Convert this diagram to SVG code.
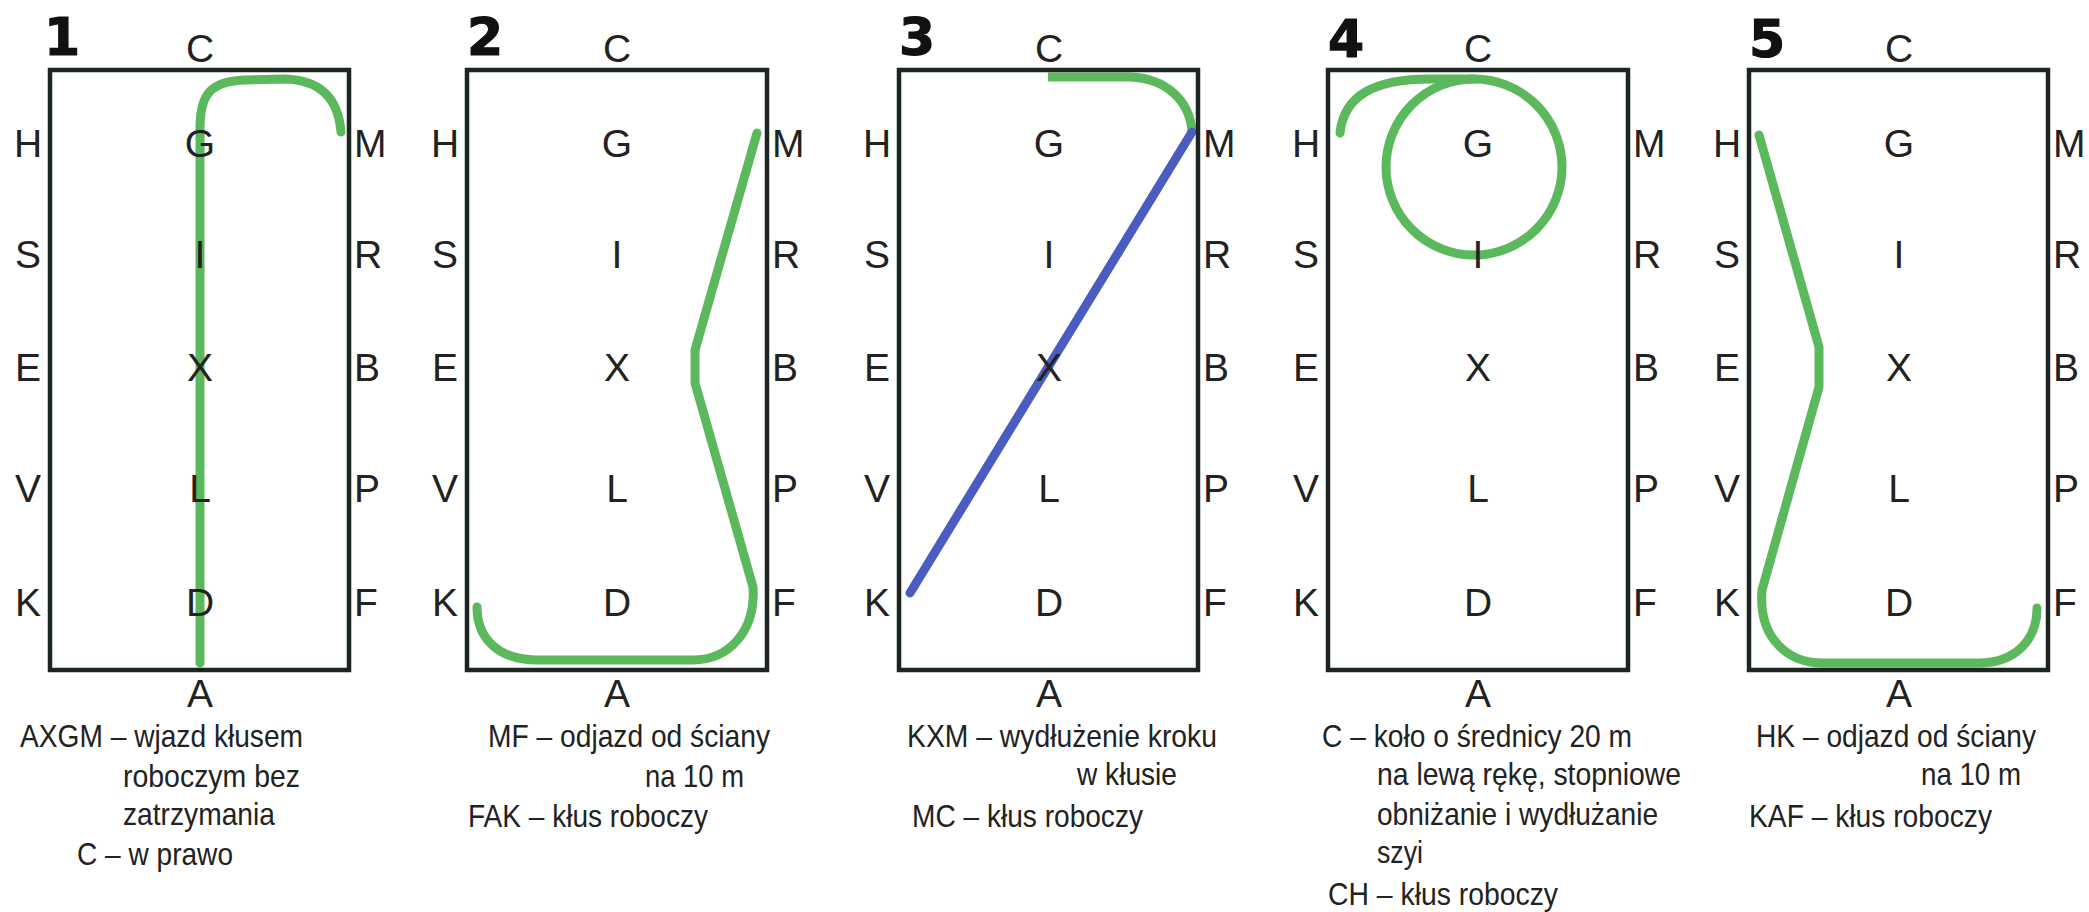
<svg xmlns="http://www.w3.org/2000/svg" width="2089" height="912" viewBox="0 0 2089 912">
<style>
.frame{fill:none;stroke:#1d2521;stroke-width:4.5}
.lbl{font-family:"Liberation Sans",Arial,sans-serif;font-size:39px;fill:#222}
.mid{text-anchor:middle}
.num{font-family:"DejaVu Sans","Liberation Sans",sans-serif;font-weight:bold;font-size:52px;fill:#111;stroke:#111;stroke-width:1.2}
.cap{font-family:"Liberation Sans Narrow","Liberation Sans",Arial,sans-serif;font-size:32px;fill:#222}
.g{fill:none;stroke:#5cb85c;stroke-width:9;stroke-linecap:round;stroke-linejoin:round}
.b{fill:none;stroke:#4a5cc0;stroke-width:9;stroke-linecap:round}
</style>
<rect width="2089" height="912" fill="#ffffff"/>

<g id="connectors">
  <path class="g" d="M200,663 L200,128 C200,95 210,81 245,80 L285,79 C318,80 338,96 341,132"/>
  <path class="g" d="M757,133 L695,350 L695,383 L753,587 C756,632 728,660 693,660 L537,660 C500,660 477,640 477,607"/>
  <path class="g" style="stroke-linecap:butt" d="M1048,77 L1130,77 C1165,78 1190,100 1192,132"/>
  <path class="b" d="M1192,132 L910,593"/>
  <path class="g" d="M1340,133 C1344,95 1375,79 1430,79 L1474,79"/>
  <circle class="g" cx="1474" cy="167" r="88"/>
  <path class="g" d="M1759,135 L1819,347 L1819,387 L1762,590 C1758,640 1790,663 1822,663 L1979,663 C2015,663 2037,640 2037,608"/>
</g>

<g id="panel1">
  <rect class="frame" x="50" y="70" width="299" height="600"/>
  <text class="num" x="44" y="55">1</text>
  <g class="lbl mid">
    <text x="200" y="62">C</text><text x="200" y="707">A</text>
    <text x="28" y="157">H</text><text x="28" y="268">S</text><text x="28" y="381">E</text><text x="28" y="502">V</text><text x="28" y="616">K</text>
    <text x="200" y="157">G</text><text x="200" y="268">I</text><text x="200" y="381">X</text><text x="200" y="502">L</text><text x="200" y="616">D</text>
  </g>
  <g class="lbl">
    <text x="354" y="157">M</text><text x="354" y="268">R</text><text x="354" y="381">B</text><text x="354" y="502">P</text><text x="354" y="616">F</text>
  </g>
  <g class="cap">
    <text x="20" y="747" textLength="283" lengthAdjust="spacingAndGlyphs">AXGM – wjazd kłusem</text>
    <text x="123" y="787" textLength="177" lengthAdjust="spacingAndGlyphs">roboczym bez</text>
    <text x="123" y="825" textLength="152" lengthAdjust="spacingAndGlyphs">zatrzymania</text>
    <text x="77" y="865" textLength="156" lengthAdjust="spacingAndGlyphs">C – w prawo</text>
  </g>
</g>

<g id="panel2">
  <rect class="frame" x="467" y="70" width="300" height="600"/>
  <text class="num" x="467" y="55">2</text>
  <g class="lbl mid">
    <text x="617" y="62">C</text><text x="617" y="707">A</text>
    <text x="445" y="157">H</text><text x="445" y="268">S</text><text x="445" y="381">E</text><text x="445" y="502">V</text><text x="445" y="616">K</text>
    <text x="617" y="157">G</text><text x="617" y="268">I</text><text x="617" y="381">X</text><text x="617" y="502">L</text><text x="617" y="616">D</text>
  </g>
  <g class="lbl">
    <text x="772" y="157">M</text><text x="772" y="268">R</text><text x="772" y="381">B</text><text x="772" y="502">P</text><text x="772" y="616">F</text>
  </g>
  <g class="cap">
    <text x="488" y="747" textLength="282" lengthAdjust="spacingAndGlyphs">MF – odjazd od ściany</text>
    <text x="645" y="787" textLength="99" lengthAdjust="spacingAndGlyphs">na 10 m</text>
    <text x="468" y="827" textLength="240" lengthAdjust="spacingAndGlyphs">FAK – kłus roboczy</text>
  </g>
</g>

<g id="panel3">
  <rect class="frame" x="899" y="70" width="299" height="600"/>
  <text class="num" x="899" y="55">3</text>
  <g class="lbl mid">
    <text x="1049" y="62">C</text><text x="1049" y="707">A</text>
    <text x="877" y="157">H</text><text x="877" y="268">S</text><text x="877" y="381">E</text><text x="877" y="502">V</text><text x="877" y="616">K</text>
    <text x="1049" y="157">G</text><text x="1049" y="268">I</text><text x="1049" y="381">X</text><text x="1049" y="502">L</text><text x="1049" y="616">D</text>
  </g>
  <g class="lbl">
    <text x="1203" y="157">M</text><text x="1203" y="268">R</text><text x="1203" y="381">B</text><text x="1203" y="502">P</text><text x="1203" y="616">F</text>
  </g>
  <g class="cap">
    <text x="907" y="747" textLength="310" lengthAdjust="spacingAndGlyphs">KXM – wydłużenie kroku</text>
    <text x="1077" y="785" textLength="100" lengthAdjust="spacingAndGlyphs">w kłusie</text>
    <text x="912" y="827" textLength="231" lengthAdjust="spacingAndGlyphs">MC – kłus roboczy</text>
  </g>
</g>

<g id="panel4">
  <rect class="frame" x="1328" y="70" width="300" height="600"/>
  <text class="num" x="1328" y="57">4</text>
  <g class="lbl mid">
    <text x="1478" y="62">C</text><text x="1478" y="707">A</text>
    <text x="1306" y="157">H</text><text x="1306" y="268">S</text><text x="1306" y="381">E</text><text x="1306" y="502">V</text><text x="1306" y="616">K</text>
    <text x="1478" y="157">G</text><text x="1478" y="268">I</text><text x="1478" y="381">X</text><text x="1478" y="502">L</text><text x="1478" y="616">D</text>
  </g>
  <g class="lbl">
    <text x="1633" y="157">M</text><text x="1633" y="268">R</text><text x="1633" y="381">B</text><text x="1633" y="502">P</text><text x="1633" y="616">F</text>
  </g>
  <g class="cap">
    <text x="1322" y="747" textLength="310" lengthAdjust="spacingAndGlyphs">C – koło o średnicy 20 m</text>
    <text x="1377" y="785" textLength="304" lengthAdjust="spacingAndGlyphs">na lewą rękę, stopniowe</text>
    <text x="1377" y="825" textLength="281" lengthAdjust="spacingAndGlyphs">obniżanie i wydłużanie</text>
    <text x="1377" y="863" textLength="46" lengthAdjust="spacingAndGlyphs">szyi</text>
    <text x="1328" y="905" textLength="230" lengthAdjust="spacingAndGlyphs">CH – kłus roboczy</text>
  </g>
</g>

<g id="panel5">
  <rect class="frame" x="1749" y="70" width="299" height="600"/>
  <text class="num" x="1749" y="57">5</text>
  <g class="lbl mid">
    <text x="1899" y="62">C</text><text x="1899" y="707">A</text>
    <text x="1727" y="157">H</text><text x="1727" y="268">S</text><text x="1727" y="381">E</text><text x="1727" y="502">V</text><text x="1727" y="616">K</text>
    <text x="1899" y="157">G</text><text x="1899" y="268">I</text><text x="1899" y="381">X</text><text x="1899" y="502">L</text><text x="1899" y="616">D</text>
  </g>
  <g class="lbl">
    <text x="2053" y="157">M</text><text x="2053" y="268">R</text><text x="2053" y="381">B</text><text x="2053" y="502">P</text><text x="2053" y="616">F</text>
  </g>
  <g class="cap">
    <text x="1756" y="747" textLength="280" lengthAdjust="spacingAndGlyphs">HK – odjazd od ściany</text>
    <text x="1921" y="785" textLength="100" lengthAdjust="spacingAndGlyphs">na 10 m</text>
    <text x="1749" y="827" textLength="243" lengthAdjust="spacingAndGlyphs">KAF – kłus roboczy</text>
  </g>
</g>
</svg>
